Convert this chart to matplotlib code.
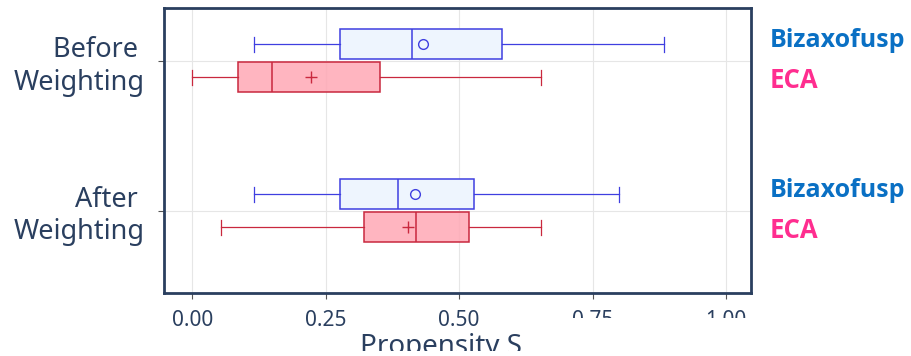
"""Propensity score distribution before / after weighting (box plot)."""
import matplotlib
matplotlib.use("Agg")
import matplotlib.pyplot as plt
import matplotlib.transforms as mtransforms
from matplotlib.patches import Rectangle

plt.rcParams["font.family"] = ["Noto Sans", "DejaVu Sans"]

# --- data ---
categories = ["Before \nWeighting", "After \nWeighting"]
series_names = ["Bizaxofusp", "ECA"]

biz_whislo = [0.115, 0.115]
biz_q1 = [0.277, 0.277]
biz_med = [0.412, 0.386]
biz_mean = [0.432, 0.417]
biz_q3 = [0.581, 0.528]
biz_whishi = [0.884, 0.800]

eca_whislo = [0.0, 0.053]
eca_q1 = [0.086, 0.322]
eca_med = [0.150, 0.419]
eca_mean = [0.223, 0.404]
eca_q3 = [0.352, 0.518]
eca_whishi = [0.654, 0.654]

x_ticks = [0.0, 0.25, 0.5, 0.75, 1.0]
x_ticklabels = ["0.00", "0.25", "0.50", "0.75", "1.00"]
x_title = "Propensity Score"

NAVY = "#2a3f5f"
BIZ_EDGE, BIZ_FILL, BIZ_TEXT = "#3f3fe0", "#eef5fe", "#0a70c4"
ECA_EDGE, ECA_FILL, ECA_TEXT = "#c9283e", (1.0, 0.66, 0.71, 0.85), "#ff2d8f"


def stats(lo, q1, med, mean, q3, hi):
    return [{"whislo": a, "q1": b, "med": c, "mean": d, "q3": e, "whishi": f, "fliers": []}
            for a, b, c, d, e, f in zip(lo, q1, med, mean, q3, hi)]


fig = plt.figure(figsize=(9.11, 3.56), dpi=100)
ax = fig.add_axes([164 / 911, 1 - 293 / 356, (751 - 164) / 911, (293 - 8) / 356])

ypos = list(range(len(categories)))
offset, width = 0.11, 0.2

for st, pos, edge, fill, marker in [
    (stats(biz_whislo, biz_q1, biz_med, biz_mean, biz_q3, biz_whishi),
     [y - offset for y in ypos], BIZ_EDGE, BIZ_FILL, "o"),
    (stats(eca_whislo, eca_q1, eca_med, eca_mean, eca_q3, eca_whishi),
     [y + offset for y in ypos], ECA_EDGE, ECA_FILL, "+"),
]:
    ax.bxp(st, positions=pos, vert=False, widths=width, capwidths=width / 2,
           patch_artist=True, showmeans=True, manage_ticks=False,
           boxprops=dict(facecolor=fill, edgecolor=edge, linewidth=1.1),
           medianprops=dict(color=edge, linewidth=1.1),
           whiskerprops=dict(color=edge, linewidth=0.9),
           capprops=dict(color=edge, linewidth=0.9),
           meanprops=dict(marker=marker, markersize=7 if marker == "o" else 8,
                          markerfacecolor="none", markeredgecolor=edge,
                          markeredgewidth=1.0))

ax.set_xlim(-0.053, 1.047)
ax.set_ylim(1.55, -0.353)
ax.set_xticks(x_ticks, x_ticklabels)
ax.set_yticks(ypos, categories)
ax.grid(True, color="#e6e6e6", linewidth=0.8)
ax.set_axisbelow(True)
for s in ax.spines.values():
    s.set_color(NAVY)
    s.set_linewidth(2.0)
ax.tick_params(axis="x", colors="#555555", labelcolor=NAVY, labelsize=15, length=4, pad=8)
ax.tick_params(axis="y", colors="#555555", labelcolor=NAVY, labelsize=19.5, length=4, pad=10)
xlab = ax.set_xlabel(x_title, fontsize=20, color=NAVY, labelpad=2,
                     x=(360 - 164) / 587, ha="left")

# series names on the right of each group
trans = mtransforms.blended_transform_factory(ax.transAxes, ax.transData)
for y in ypos:
    ax.text(1.032, y - 0.137, series_names[0], transform=trans, color=BIZ_TEXT,
            fontsize=18, fontweight="bold", family=["Open Sans", "DejaVu Sans"],
            va="center", ha="left")
    ax.text(1.032, y + 0.13, series_names[1], transform=trans, color=ECA_TEXT,
            fontsize=18.5, fontweight="bold", family=["Open Sans", "DejaVu Sans"],
            va="center", ha="left")

# the reference is cut off at the bottom right, just after "Propensity S"
fig.canvas.draw()
r = fig.canvas.get_renderer()
full = xlab.get_window_extent(r)
probe = fig.text(0, 0, x_title[:12], fontsize=20)
cut_x = full.x0 + probe.get_window_extent(r).width + 1
probe.remove()
fig.add_artist(Rectangle((cut_x / 911, 0), 1, (356 - 318) / 356, transform=fig.transFigure,
                         facecolor="white", edgecolor="none", zorder=10))
fig.add_artist(Rectangle((0, 0), 1, 5 / 356, transform=fig.transFigure,
                         facecolor="white", edgecolor="none", zorder=10))

fig.savefig("out.png", dpi=100)
